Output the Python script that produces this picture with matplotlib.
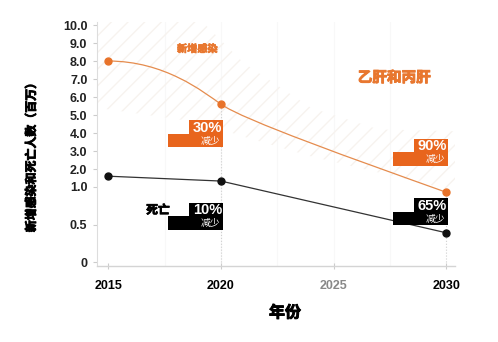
import numpy as np
import matplotlib
matplotlib.use("Agg")
import matplotlib.pyplot as plt
import matplotlib.patheffects as pe
from matplotlib.patches import Rectangle, PathPatch
from matplotlib.path import Path

plt.rcParams['font.family'] = ['Liberation Sans', 'Noto Sans CJK SC']
plt.rcParams['hatch.linewidth'] = 1.0

years = [2015, 2020, 2030]
new_infections = [8.0, 5.6, 0.93]   # 百万
deaths = [1.6, 1.33, 0.39]          # 百万
infection_cuts = ["30%", "90%"]
death_cuts = ["10%", "65%"]

# shaded range around the infection curve
band_x = [2014.5, 2019.0, 2021.0, 2024.0, 2027.0, 2030.4]
band_hi = [10.4, 10.4, 7.9, 5.4, 4.2, 4.1]
band_lo = [5.4, 4.6, 3.8, 2.7, 1.8, 0.95]

y_ticks = [0, 0.5, 1, 2, 3, 4, 5, 6, 7, 8, 9, 10]
y_labels = ["0", "0.5", "1.0", "2.0", "3.0", "4.0", "5.0", "6.0", "7.0", "8.0", "9.0", "10.0"]
x_ticks = [2015, 2020, 2025, 2030]

ORANGE = '#e8651d'
LINE_ORANGE = '#e58c4e'
DOT_ORANGE = '#e8732a'
TEXT_ORANGE = '#e8772f'

# below 1 million the axis is stretched
K = 4.17


def fwd(y):
    y = np.asarray(y, dtype=float)
    return np.where(y <= 1, y * K, K + (y - 1))


def inv(u):
    u = np.asarray(u, dtype=float)
    return np.where(u <= K, u / K, u - K + 1)


def heavy(color, w=0.6):
    # thicken CJK glyphs a little
    return [pe.withStroke(linewidth=w, foreground=color)]


fig = plt.figure(figsize=(4.98, 3.42), dpi=100)
ax = fig.add_axes([0.195, 0.2222, 0.719, 0.7135])
ax.set_yscale('function', functions=(fwd, inv))
ax.set_xlim(2014.5, 2030.4)
ax.set_ylim(-0.053, 10.17)

for gx in [2017.5, 2020, 2022.5, 2025, 2027.5]:
    ax.axvline(gx, color='#f8f8f8', lw=0.8, zorder=0)

ax.fill_between(band_x, band_lo, band_hi, facecolor='none', edgecolor='#f7f3ef',
                hatch='//', linewidth=0, zorder=1)

# dotted drop lines
for x, top in zip(years[1:], new_infections[1:]):
    ax.plot([x, x], [0, top], ls=':', color='#cfcfcf', lw=0.8, zorder=2)

# smooth infection curve
p0, p1, p2 = list(zip(years, new_infections))
verts = [p0, (2017.5, p0[1]), (2019.2, 6.3), p1,
         (2021.0, 4.72), (2026.0, 2.5), p2]
codes = [Path.MOVETO] + [Path.CURVE4] * 6
ax.add_patch(PathPatch(Path(verts, codes), fill=False, edgecolor=LINE_ORANGE, lw=0.9, zorder=3))
ax.plot(years, new_infections, 'o', color=DOT_ORANGE, ms=5, zorder=5)

ax.plot(years, deaths, '-', color='#333333', lw=0.9, zorder=3)
ax.plot(years, deaths, 'o', color='#111111', ms=5, zorder=5)

ax.set_yticks(y_ticks)
ax.set_yticklabels(y_labels)
ax.set_xticks(x_ticks)
ax.set_xticklabels([str(x) for x in x_ticks])
ax.tick_params(axis='y', length=3, color='#cccccc', pad=4, labelsize=9, labelcolor='#222222')
ax.tick_params(axis='x', length=4, direction='inout', color='#cccccc', pad=8, labelsize=9)
for lab in ax.get_yticklabels() + ax.get_xticklabels():
    lab.set_fontweight('bold')
ax.get_xticklabels()[2].set_color('#888888')

for side in ['top', 'right']:
    ax.spines[side].set_visible(False)
ax.spines['left'].set_color('#dddddd')
ax.spines['bottom'].set_color('#d4d4d4')
ax.spines['bottom'].set_linewidth(1.0)
ax.spines['left'].set_linewidth(0.8)

W, H = fig.get_size_inches() * fig.dpi


def tag(x, y_top, pct, color):
    px, py = ax.transData.transform((x, y_top))
    right = px + 2
    fig.add_artist(Rectangle(((right - 34) / W, (py - 14) / H), 34 / W, 14 / H,
                             transform=fig.transFigure, color=color, lw=0, zorder=6))
    fig.add_artist(Rectangle(((right - 55) / W, (py - 27) / H), 55 / W, 13.5 / H,
                             transform=fig.transFigure, color=color, lw=0, zorder=6))
    fig.text((right - 1) / W, (py - 7.5) / H, pct, color='white', fontsize=10.5,
             fontweight='bold', ha='right', va='center', zorder=7)
    fig.text((right - 3) / W, (py - 20.5) / H, "减少", color='white', fontsize=7,
             ha='right', va='center', zorder=7)


ax.figure.canvas.draw()
tag(2020, 4.72, infection_cuts[0], ORANGE)
tag(2030, 3.67, infection_cuts[1], ORANGE)
tag(2020, 0.79, death_cuts[0], 'black')
tag(2030, 0.85, death_cuts[1], 'black')

ax.text(2018.95, 8.67, "新增感染", color=TEXT_ORANGE, fontsize=7.3, fontweight='bold',
        ha='center', va='center', path_effects=heavy(TEXT_ORANGE, 0.5))
ax.text(2027.7, 7.06, "乙肝和丙肝", color=TEXT_ORANGE, fontsize=10.5, fontweight='bold',
        ha='center', va='center', path_effects=heavy(TEXT_ORANGE, 0.7))
ax.text(2017.2, 0.685, "死亡", color='black', fontsize=8.5, fontweight='bold',
        ha='center', va='center', path_effects=heavy('black', 0.6))

fig.text(32 / W, 1 - 155 / H, "新增感染和死亡人数（百万）", rotation=90, fontsize=8.6,
         fontweight='bold', ha='center', va='center', path_effects=heavy('black', 0.6))
fig.text(285 / W, 1 - 313 / H, "年份", fontsize=11.5, fontweight='bold',
         ha='center', va='center', path_effects=heavy('black', 0.7))

fig.savefig("out.png", dpi=100)
